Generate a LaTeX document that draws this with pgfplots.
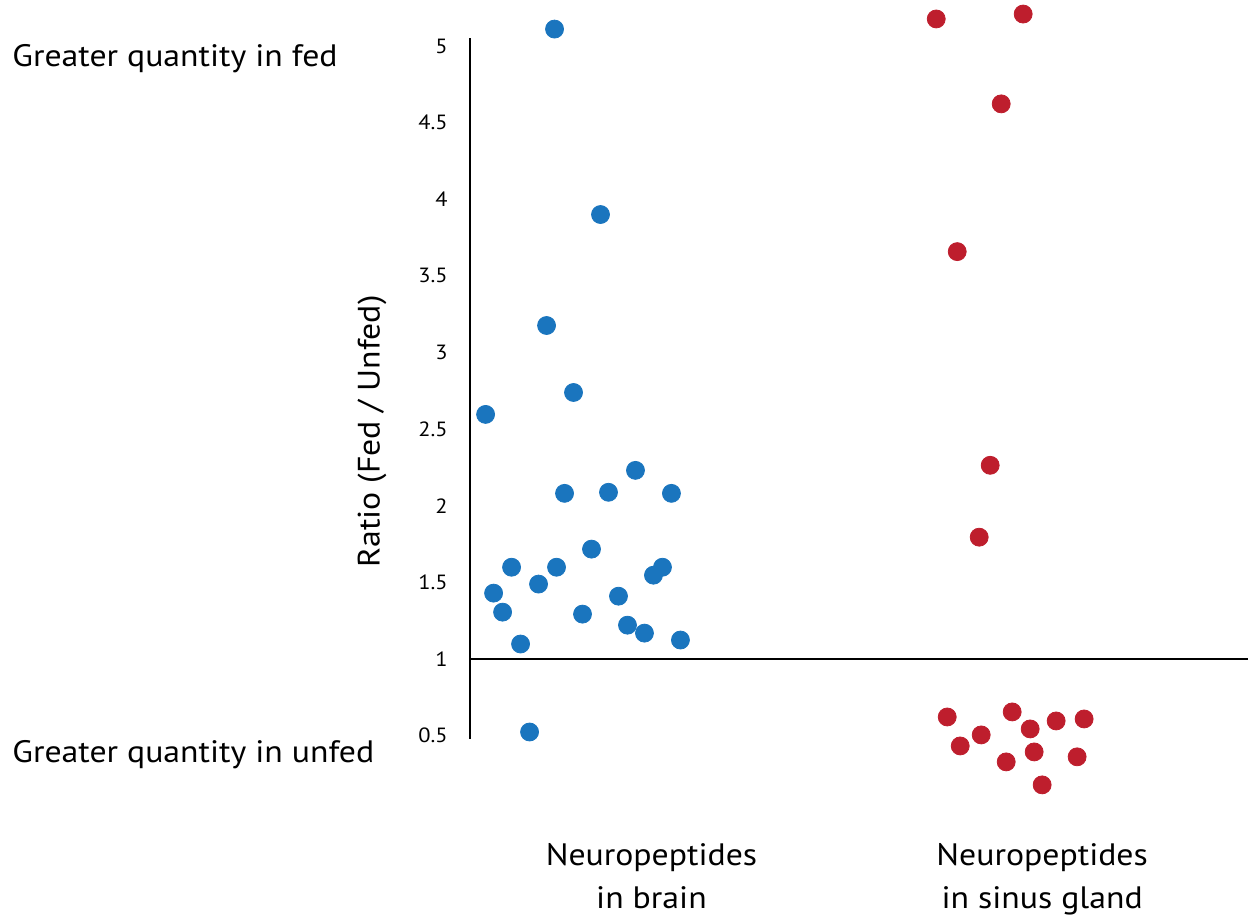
\documentclass[border=0pt]{standalone}
\usepackage{fontspec}
\setmainfont[FakeStretch=1.09]{PT Sans}
\usepackage{pgfplots}
\usepackage{pgfplotstable}
\pgfplotsset{compat=1.18}
\definecolor{pblue}{HTML}{1A75BE}
\definecolor{pred}{HTML}{BE1E2D}
\pgfplotstableread{
x y
555 5.11
601 3.90
547 3.176
574 2.739
486 2.596
636 2.231
565 2.081
609 2.088
672 2.081
592 1.717
512 1.599
557 1.599
663 1.599
654 1.547
539 1.489
494 1.430
619 1.410
503 1.306
583 1.293
628 1.221
645 1.169
681 1.124
521 1.098
530 0.524
}\brain
\pgfplotstableread{
x y
1024 5.208
937 5.176
1002 4.622
958 3.658
991 2.264
980 1.795
948 0.622
1013 0.655
1057 0.596
1085 0.609
1031 0.544
982 0.505
961 0.433
1035 0.394
1078 0.362
1007 0.329
1043 0.179
}\sinus
\begin{document}
\begin{tikzpicture}
\begin{axis}[
  scale only axis, width=389.5pt, height=350.75pt,
  xmin=470, xmax=1249, ymin=0.479, ymax=5.052,
  axis x line=none, axis y line*=left,
  y axis line style={-, line width=1pt},
  ytick={0.5,1,1.5,2,2.5,3,3.5,4,4.5,5},
  major tick length=0pt,
  yticklabel style={font=\fontsize{10.3}{12}\selectfont, xshift=-7.5pt},
  /pgf/number format/assume math mode=true,
  clip=false,
]
\path (axis cs:0,-0.6808) rectangle (axis cs:1249,5.2997);
\draw[line width=1pt] (axis cs:470,1) -- (axis cs:1249,1);
\addplot[only marks, color=pblue, mark=*, mark size=4.5pt, mark options={draw=none, fill=pblue}] table[x=x,y=y] {\brain};
\addplot[only marks, color=pred, mark=*, mark size=4.5pt, mark options={draw=none, fill=pred}] table[x=x,y=y] {\sinus};
\begin{scope}[every node/.style={font=\fontsize{15.5}{21.5}\selectfont, inner sep=0pt}]
\node[anchor=base west] at (axis cs:12,4.865) {Greater quantity in fed};
\node[anchor=base west] at (axis cs:12,0.3225) {Greater quantity in unfed};
\node[anchor=base, rotate=90] at (axis cs:380,2.485) {Ratio (Fed / Unfed)};
\node[anchor=base] at (axis cs:652,-0.3466) {Neuropeptides};
\node[anchor=base] at (axis cs:652,-0.6287) {in brain};
\node[anchor=base] at (axis cs:1043,-0.3466) {Neuropeptides};
\node[anchor=base] at (axis cs:1043,-0.6287) {in sinus gland};
\end{scope}
\end{axis}
\end{tikzpicture}
\end{document}
